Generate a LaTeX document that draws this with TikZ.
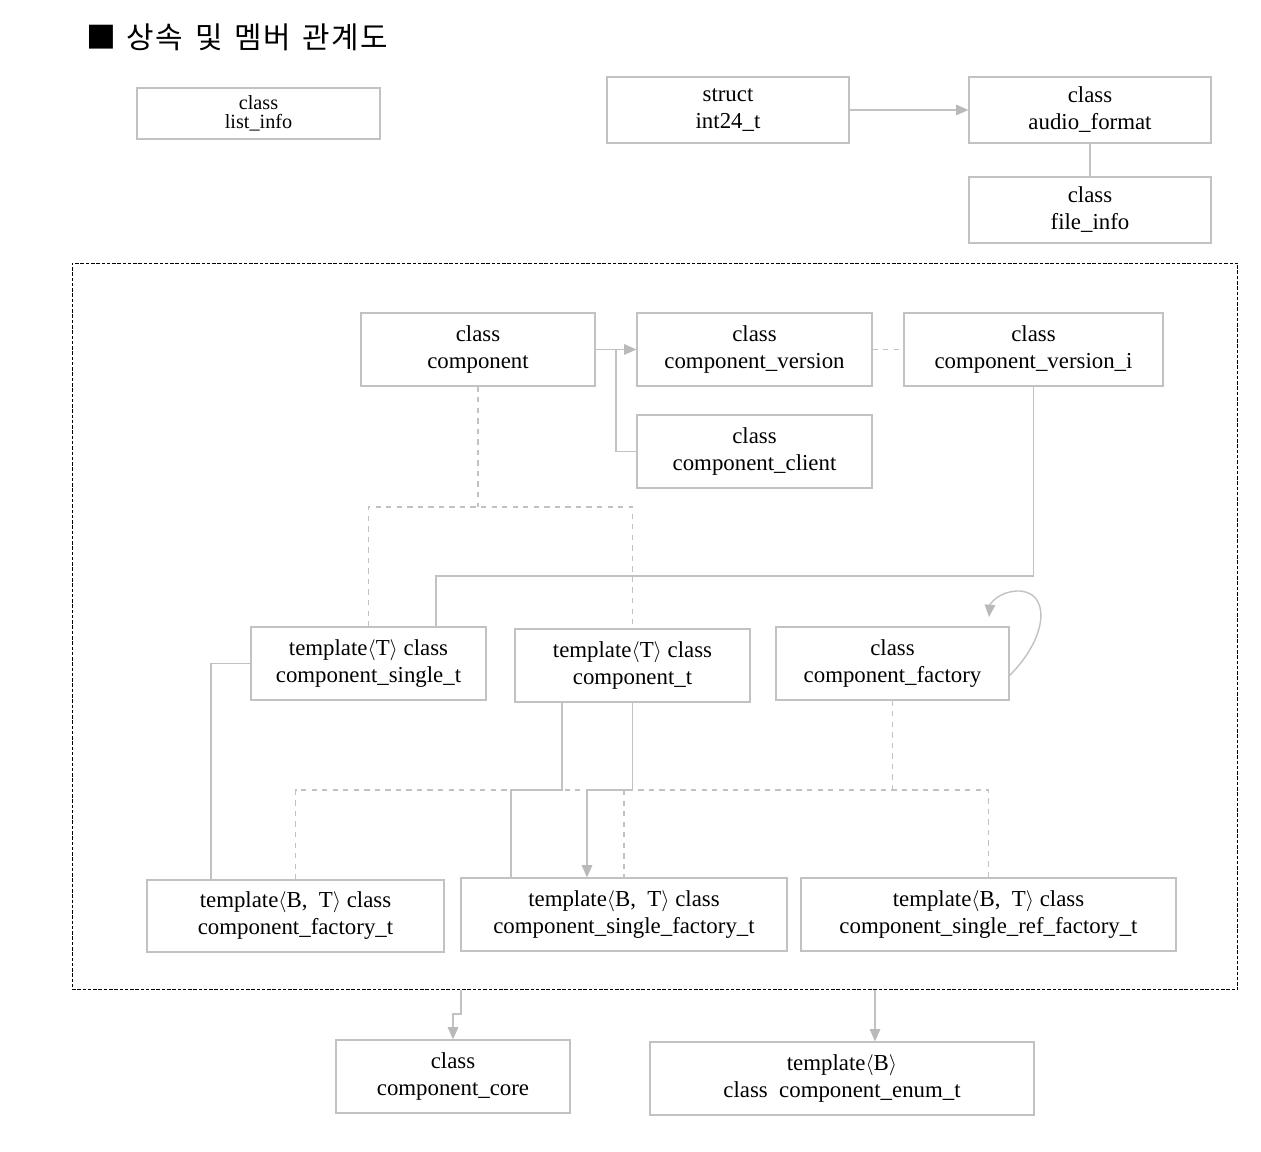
\documentclass[tikz,border=0pt]{standalone}
\usepackage{fontspec}
\setmainfont{Liberation Serif}
\newfontfamily\cjk{Noto Sans CJK KR}
\usetikzlibrary{positioning, calc, arrows.meta}

\begin{document}
\begin{tikzpicture}[x=0.02cm, y=-0.02cm,
    cls/.style={rectangle, draw=gray!48, line width=0.7pt, align=center,
      minimum height=1.46cm, inner sep=0pt,
      font=\fontsize{13}{15.4}\selectfont},
    conn/.style={draw=gray!48, line width=0.8pt},
    grp/.style={draw=black, line width=0.6pt, dash pattern=on 2pt off 1pt},
    >={Triangle[length=7pt,width=6pt,color=gray!55]}]

  \useasboundingbox (0,0) rectangle (1261,1152);

  \node[anchor=west, inner sep=0pt] (title) at (86,37)
    {\fontsize{17}{19}\cjk ■\hspace{0.35em}상\hspace{0.05em}속\hspace{0.4em}및\hspace{0.4em}멤\hspace{0.05em}버\hspace{0.4em}관\hspace{0.05em}계\hspace{0.05em}도};

  % outside the group
  \node[cls, minimum width=4.86cm, minimum height=1.02cm,
    font=\fontsize{11.5}{11}\selectfont] (list) at (258.5,113.5) {class\\list\_info};
  \node[cls, minimum width=4.84cm, minimum height=1.32cm] (int) at (728,110) {struct\\int24\_t};
  \node[cls, minimum width=4.84cm, minimum height=1.32cm] (audio) at (1090,110) {class\\audio\_format};
  \node[cls, minimum width=4.84cm, minimum height=1.32cm] (file) at (1090,210) {class\\file\_info};

  % the group
  \node[grp, minimum width=23.32cm, minimum height=14.54cm] (group) at (655,626.5) {};

  \node[cls, minimum width=4.68cm] (comp) at (478,349.5) {class\\component};
  \node[cls, minimum width=4.70cm] (ver) at (754.5,349.5) {class\\component\_version};
  \node[cls, minimum width=5.18cm] (veri) at (1033.5,349.5) {class\\component\_version\_i};
  \node[cls, minimum width=4.70cm] (client) at (754.5,451.5) {class\\component\_client};

  \node[cls, minimum width=4.70cm] (single) at (368.5,663.5) {template$\langle$T$\rangle$ class\\component\_single\_t};
  \node[cls, minimum width=4.70cm] (ct) at (632.5,665.5) {template$\langle$T$\rangle$ class\\component\_t};
  \node[cls, minimum width=4.66cm] (fac) at (892.5,663.5) {class\\component\_factory};

  \node[cls, minimum width=5.94cm, minimum height=1.44cm] (ft) at (295.5,916) {template$\langle$B,\ \ T$\rangle$ class\\component\_factory\_t};
  \node[cls, minimum width=6.52cm] (sft) at (624,914.5) {template$\langle$B,\ \ T$\rangle$ class\\component\_single\_factory\_t};
  \node[cls, minimum width=7.50cm] (rft) at (988.5,914.5) {template$\langle$B,\ \ T$\rangle$ class\\component\_single\_ref\_factory\_t};

  % below the group
  \node[cls, minimum width=4.68cm] (core) at (453,1076.5) {class\\component\_core};
  \node[cls, minimum width=7.68cm] (enum) at (842,1078.5) {template$\langle$B$\rangle$\\class\ \ component\_enum\_t};

  \coordinate (k1) at (436,576);
  \coordinate (k2) at (478,507);
  \coordinate (k3) at (211,0);
  \coordinate (k4) at (562,790);
  \coordinate (k5) at (511,790);
  \coordinate (k6) at (587,790);
  \coordinate (j1) at (461,1014);
  \coordinate (j2) at (875,1014);

  \draw[conn,->] (int.east) -- (audio.west);
  \draw[conn] (audio) -- (file);

  \draw[conn,->] (comp.east) -- (ver.west);
  \draw[conn] ($(comp.east)!.5!(ver.west)$) |- (client.west);
  \draw[conn,dashed] (ver.east) -- (veri.west);

  \draw[conn,line width=1.1pt] (veri.south) |- (k1) -- (k1 |- single.north);
  \draw[conn,dashed] (comp.south) -- (k2);
  \draw[conn,dashed] (single.north) |- (k2) -| (ct.north);

  \draw[conn,->] ([yshift=-0.24cm]fac.east) .. controls (1050,635) and (1050,590) .. (1017,591)
    .. controls (998,592) and (990,604) .. (989,617);

  \draw[conn] (single.west) -| (k3 |- ft.north);

  \draw[conn] (ct.south -| k4) -- (k4) -- (k5) -- (k5 |- sft.north);
  \draw[conn,->] (ct.south) |- (k6) -- (k6 |- sft.north);
  \draw[conn,dashed,line width=1.1pt] (fac.south) -- (fac.south |- k4);
  \draw[conn,dashed] (ft.north) |- (rft.north |- k4) -- (rft.north);
  \draw[conn,dashed] (sft.north |- k4) -- (sft.north);

  \draw[conn,->] (group.south -| j1) -- (j1) -| (core.north);
  \draw[conn,->] (group.south -| j2) -- (j2 |- enum.north);
\end{tikzpicture}
\end{document}
